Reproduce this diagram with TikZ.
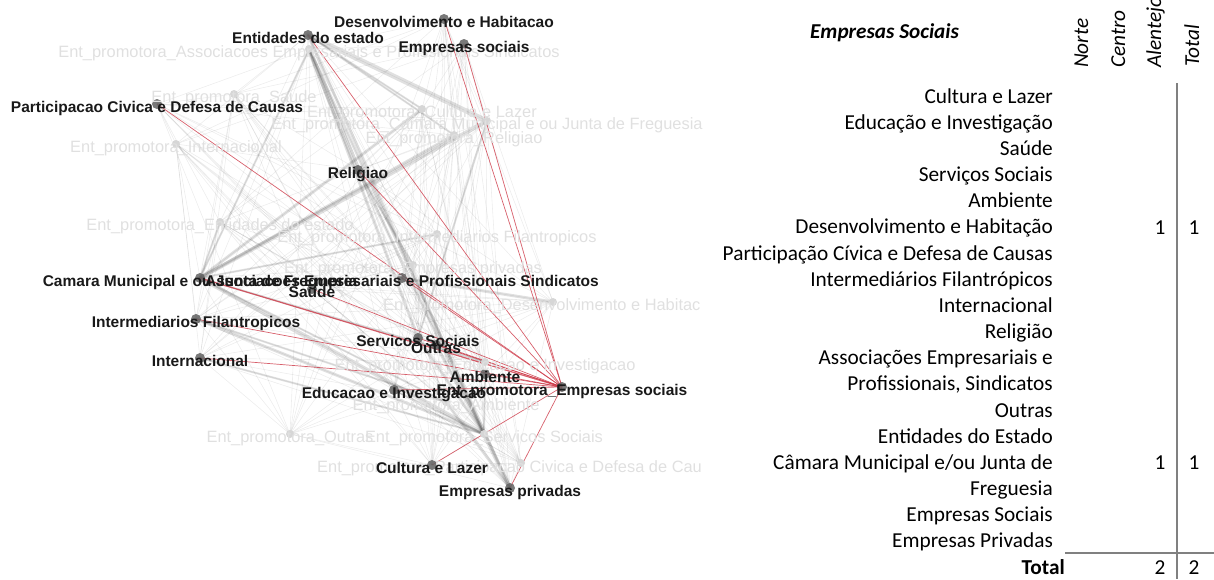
\documentclass[tikz,border=0pt]{standalone}
\usepackage{fontspec}
\setmainfont{Liberation Sans}
\newfontfamily\tabfont{Carlito}
\begin{document}
\begin{tikzpicture}[x=1pt,y=-1pt,
  odot/.style={circle,fill=black!62,fill opacity=0.85,inner sep=0pt,minimum size=10pt},
  pdot/.style={circle,fill=black!16,inner sep=0pt,minimum size=8pt},
  olab/.style={anchor=base,inner sep=0pt,font=\fontsize{15.5}{18}\selectfont\bfseries,text=black!90},
  plab/.style={anchor=base,inner sep=0pt,font=\fontsize{16.4}{19}\selectfont,text=black!12},
  meshedge/.style={draw=black,opacity=0.07,line width=0.6pt},
  wideedge/.style={draw=black,opacity=0.12,line width=#1,line cap=round},
  redge/.style={draw={rgb,255:red,205;green,55;blue,70},opacity=0.8,line width=#1},
  redge/.default=0.7pt,
  rowlab/.style={anchor=base east,inner sep=0pt,font=\tabfont\fontsize{21.3}{25}\selectfont},
  colhead/.style={rotate=90,anchor=base west,inner sep=0pt,font=\tabfont\fontsize{21.3}{25}\selectfont\itshape},
  numlab/.style={anchor=base,inner sep=0pt,font=\tabfont\fontsize{21.3}{25}\selectfont},
  rule/.style={draw=black!50,line width=1.8pt}
]
\useasboundingbox (0,0) rectangle (1214,579);
\clip (0,0) rectangle (1214,579);

% ---------- vertices of the network ----------
% partner types
\coordinate (oDh)  at (444,19);
\coordinate (oEs)  at (464,44);
\coordinate (oEd)  at (308,35);
\coordinate (oPc)  at (157,104);
\coordinate (oRe)  at (358,170);
\coordinate (oCm)  at (200,278);
\coordinate (oAs)  at (402,278);
\coordinate (oSa)  at (312,289);
\coordinate (oIf)  at (196,319);
\coordinate (oIn)  at (200,358);
\coordinate (oSs)  at (418,338);
\coordinate (oOu)  at (436,345);
\coordinate (oAm)  at (485,374);
\coordinate (oEdu) at (394,390);
\coordinate (oCu)  at (432,465);
\coordinate (oEp)  at (510,488);
% promoter types
\coordinate (pEs)  at (562,387);
\coordinate (pAs)  at (309,49);
\coordinate (pSa)  at (234,94);
\coordinate (pCu)  at (422,109);
\coordinate (pCm)  at (487,121);
\coordinate (pRe)  at (454,135);
\coordinate (pIn)  at (176,144);
\coordinate (pEd)  at (220,222);
\coordinate (pIf)  at (437,234);
\coordinate (pEp)  at (413,265);
\coordinate (pDh)  at (553,302);
\coordinate (pEdu) at (485,362);
\coordinate (pAm)  at (446,402);
\coordinate (pOu)  at (290,434);
\coordinate (pSs)  at (484,434);
\coordinate (pPc)  at (521,463);

% ---------- ties ----------
\foreach \p in {pAs,pSa,pCu,pCm,pRe,pIn,pEd,pIf,pEp,pDh,pEdu,pAm,pOu,pSs,pPc}{
  \foreach \o in {oDh,oEs,oEd,oPc,oRe,oCm,oAs,oSa,oIf,oIn,oSs,oOu,oAm,oEdu,oCu,oEp}{
    \draw[meshedge] (\p) -- (\o);
  }
}
\foreach \a/\b/\w in {pAs/oRe/5,pAs/oEp/3,pAs/oSs/3,pAs/oCm/2,
    pCm/oEd/5,pRe/oEd/2,pSs/oEd/3,pCu/oEd/2,
    pCm/oCm/4,pRe/oCm/3,pCu/oCm/3,pSs/oCm/4,pEd/oCm/2,pIf/oCm/2,pEdu/oCm/2,pAm/oCm/2,
    pSs/oRe/3,pEp/oRe/2,pSs/oIf/3,pAm/oIf/2,pSs/oIn/2,
    pSs/oSs/3,pSs/oOu/3,pSs/oEp/4,pAm/oEp/3,pSs/oEdu/2,pSs/oAm/2,
    pDh/oAs/3,pCm/oSs/2}{
  \draw[wideedge=\w pt] (\a) -- (\b);
}
% ties of the social-enterprise promoters
\foreach \o in {oDh,oEs,oEd,oPc,oRe,oAs,oSa,oIf,oIn,oSs,oOu,oAm,oEdu,oCu,oEp}{
  \draw[redge] (pEs) -- (\o);
}
\draw[redge=1.2pt] (pEs) -- (oCm);

% ---------- vertex markers ----------
\foreach \p in {pAs,pSa,pCu,pCm,pRe,pIn,pEd,pIf,pEp,pDh,pEdu,pAm,pOu,pSs,pPc}{
  \node[pdot] (\p-d) at (\p) {};
}
\foreach \o in {oDh,oEs,oEd,oPc,oRe,oCm,oAs,oSa,oIf,oIn,oSs,oOu,oAm,oEdu,oCu,oEp,pEs}{
  \node[odot] (\o-d) at (\o) {};
}

% ---------- promoter labels ----------
\node[plab] (pAs-l) at ([yshift=-8pt]pAs) {Ent\_promotora\_Associacoes Empresariais e Profissionais Sindicatos};
\node[plab] (pSa-l) at ([yshift=-8pt]pSa) {Ent\_promotora\_Saude};
\node[plab] (pCu-l) at ([yshift=-8pt]pCu) {Ent\_promotora\_Cultura e Lazer};
\node[plab] (pCm-l) at ([yshift=-8pt]pCm) {Ent\_promotora\_Camara Municipal e ou Junta de Freguesia};
\node[plab] (pRe-l) at ([yshift=-8pt]pRe) {Ent\_promotora\_Religiao};
\node[plab] (pIn-l) at ([yshift=-8pt]pIn) {Ent\_promotora\_Internacional};
\node[plab] (pEd-l) at ([yshift=-8pt]pEd) {Ent\_promotora\_Entidades do estado};
\node[plab] (pIf-l) at ([yshift=-8pt]pIf) {Ent\_promotora\_Intermediarios Filantropicos};
\node[plab] (pEp-l) at ([yshift=-8pt]pEp) {Ent\_promotora\_Empresas privadas};
\node[plab,anchor=base west] (pDh-l) at (383,310) {Ent\_promotora\_Desenvolvimento e Habitac};
\node[plab] (pEdu-l) at ([yshift=-8pt]pEdu) {Ent\_promotora\_Educacao e Investigacao};
\node[plab] (pAm-l) at ([yshift=-8pt]pAm) {Ent\_promotora\_Ambiente};
\node[plab] (pOu-l) at ([yshift=-8pt]pOu) {Ent\_promotora\_Outras};
\node[plab] (pSs-l) at ([yshift=-8pt]pSs) {Ent\_promotora\_Servicos Sociais};
\node[plab,anchor=base west] (pPc-l) at (317,472) {Ent\_promotora\_Participacao Civica e Defesa de Cau};

% ---------- partner labels ----------
\node[olab] (oDh-l) at ([yshift=-8pt]oDh) {Desenvolvimento e Habitacao};
\node[olab] (oEs-l) at ([yshift=-8pt]oEs) {Empresas sociais};
\node[olab] (oEd-l) at ([yshift=-8pt]oEd) {Entidades do estado};
\node[olab] (oPc-l) at ([yshift=-8pt]oPc) {Participacao Civica e Defesa de Causas};
\node[olab] (oRe-l) at ([yshift=-8pt]oRe) {Religiao};
\node[olab] (oCm-l) at ([yshift=-8pt]oCm) {Camara Municipal e ou Junta de Freguesia};
\node[olab] (oAs-l) at ([yshift=-8pt]oAs) {Associacoes Empresariais e Profissionais Sindicatos};
\node[olab] (oSa-l) at ([yshift=-8pt]oSa) {Saude};
\node[olab] (oIf-l) at ([yshift=-8pt]oIf) {Intermediarios Filantropicos};
\node[olab] (oIn-l) at ([yshift=-8pt]oIn) {Internacional};
\node[olab] (oSs-l) at ([yshift=-8pt]oSs) {Servicos Sociais};
\node[olab] (oOu-l) at ([yshift=-8pt]oOu) {Outras};
\node[olab] (oAm-l) at ([yshift=-8pt]oAm) {Ambiente};
\node[olab] (oEdu-l) at ([yshift=-8pt]oEdu) {Educacao e Investigacao};
\node[olab] (oCu-l) at ([yshift=-8pt]oCu) {Cultura e Lazer};
\node[olab] (oEp-l) at ([yshift=-8pt]oEp) {Empresas privadas};
\node[olab] (pEs-l) at ([yshift=-8pt]pEs) {Ent\_promotora\_Empresas sociais};

% ---------- table ----------
\node[anchor=base west,inner sep=0pt,font=\tabfont\fontsize{21.2}{25}\selectfont\bfseries\itshape] (thead) at (810,38) {Empresas Sociais};
\node[colhead] (hNorte) at (1088,68) {Norte};
\node[colhead] (hCentro) at (1125,68) {Centro};
\node[colhead] (hAlentejo) at (1161,68) {Alentejo};
\node[colhead] (hTotal) at (1199,67) {Total};

\foreach \t [count=\i from 0] in {Cultura e Lazer,Educação e Investigação,Saúde,Serviços Sociais,Ambiente,
    Desenvolvimento e Habitação,Participação Cívica e Defesa de Causas,Intermediários Filantrópicos,
    Internacional,Religião,Associações Empresariais e,{Profissionais, Sindicatos},Outras,
    Entidades do Estado,Câmara Municipal e/ou Junta de,Freguesia,Empresas Sociais,Empresas Privadas}{
  \node[rowlab] (row\i) at (1053,{103+26.17*\i}) {\t};
}
\node[rowlab,font=\tabfont\fontsize{21.3}{25}\selectfont\bfseries] (rowTotal) at (1065,574) {Total};

\node[numlab] (nDhA) at (1160,234) {1};
\node[numlab] (nDhT) at (1194,234) {1};
\node[numlab] (nCmA) at (1160,469) {1};
\node[numlab] (nCmT) at (1194,469) {1};
\node[numlab] (nTotA) at (1160,574) {2};
\node[numlab] (nTotT) at (1194,574) {2};

\coordinate (vTop) at (1177,83);
\coordinate (vBot) at (1177,579);
\coordinate (hL) at (1065,553);
\coordinate (hR) at (1214,553);
\draw[rule] (vTop) -- (vBot);
\draw[rule] (hL) -- (hR);
\end{tikzpicture}
\end{document}
